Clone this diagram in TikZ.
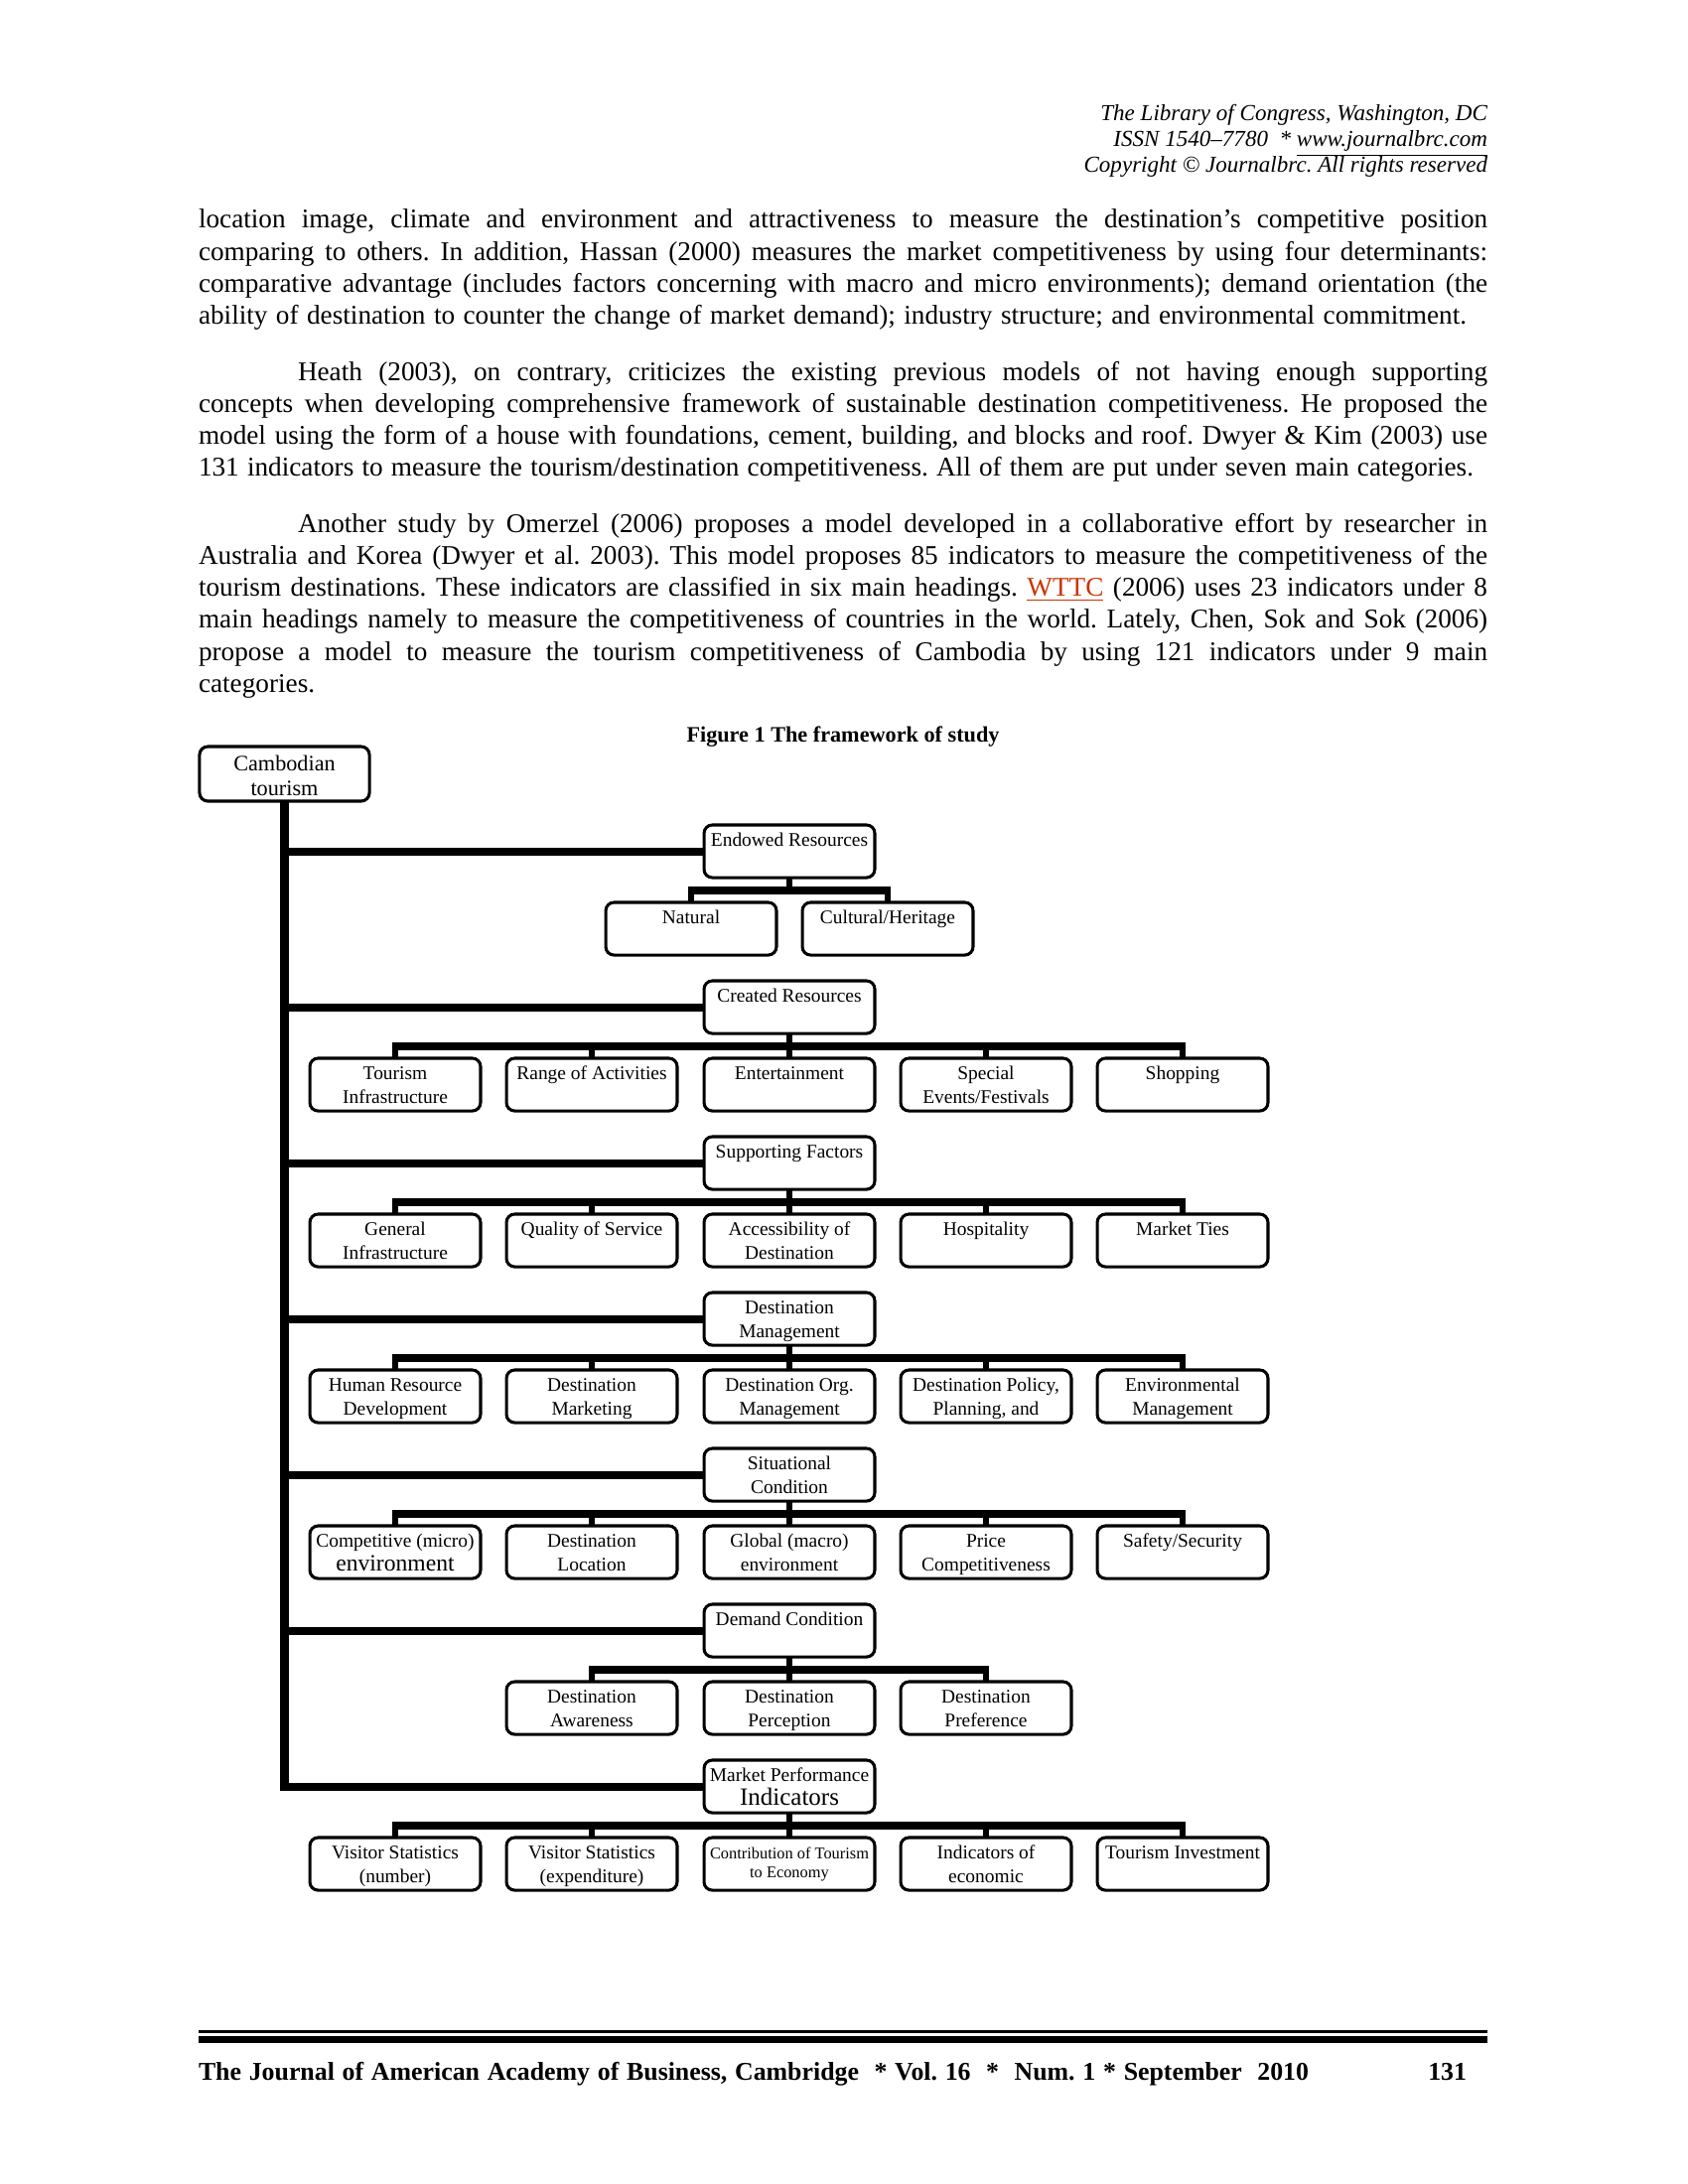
\documentclass[tikz,border=0pt]{standalone}
\usepackage{fontspec}
\setmainfont{Liberation Serif}
\usetikzlibrary{calc,backgrounds}
\definecolor{linkred}{RGB}{204,51,0}
\newcommand\bxt[1]{\parbox[c][17pt][t]{61pt}{\centering\fontsize{7}{8.5}\selectfont\rule{0pt}{6.75pt}#1\par}}
\newcommand\fitline[2]{\makebox[#1][s]{#2}}
\frenchspacing
\begin{document}
\begin{tikzpicture}[x=0.36pt,y=-0.36pt,
  every node/.style={inner sep=0pt, outer sep=0pt},
  box/.style={draw, line width=1.1pt, rounded corners=3pt, fill=white,
    minimum width=61.9pt, minimum height=19.1pt, anchor=north},
  trunkline/.style={line width=2.9pt, line cap=rect},
  busline/.style={line width=2.8pt, shorten <=-1pt, shorten >=-1pt},
  dropline/.style={line width=2pt},
  bodyline/.style={anchor=base west, font=\fontsize{9.8}{11.6}\selectfont},
  headline/.style={anchor=base east, font=\itshape\fontsize{8.3}{9}\selectfont},
]
\useasboundingbox (0,0) rectangle (1700,2200);

% header
\node[headline] (hd1) at (1498,122) {The Library of Congress, Washington, DC};
\node[headline] (hd2) at (1498,148) {ISSN 1540–7780 \ * \underline{www.journalbrc.com}};
\node[headline] (hd3) at (1498,174) {Copyright © Journalbrc. All rights reserved};

% body text
\node[bodyline] (p1a) at (200,230.0) {\fitline{467.3pt}{location image, climate and environment and attractiveness to measure the destination’s competitive position}};
\node[bodyline] (p1b) at (200,262.3) {\fitline{467.3pt}{comparing to others. In addition, Hassan (2000) measures the market competitiveness by using four determinants:}};
\node[bodyline] (p1c) at (200,294.6) {\fitline{467.3pt}{comparative advantage (includes factors concerning with macro and micro environments); demand orientation (the}};
\node[bodyline] (p1d) at (200,326.9) {\fitline{459.7pt}{ability of destination to counter the change of market demand); industry structure; and environmental commitment.}};

\node[bodyline] (p2a) at (300,383.0) {\fitline{431.3pt}{Heath (2003), on contrary, criticizes the existing previous models of not having enough supporting}};
\node[bodyline] (p2b) at (200,415.3) {\fitline{467.3pt}{concepts when developing comprehensive framework of sustainable destination competitiveness. He proposed the}};
\node[bodyline] (p2c) at (200,447.6) {\fitline{467.3pt}{model using the form of a house with foundations, cement, building, and blocks and roof. Dwyer \& Kim (2003) use}};
\node[bodyline] (p2d) at (200,479.9) {\fitline{462.2pt}{131 indicators to measure the tourism/destination competitiveness. All of them are put under seven main categories.}};

\node[bodyline] (p3a) at (300,536.0) {\fitline{431.3pt}{Another study by Omerzel (2006) proposes a model developed in a collaborative effort by researcher in}};
\node[bodyline] (p3b) at (200,568.3) {\fitline{467.3pt}{Australia and Korea (Dwyer et al. 2003). This model proposes 85 indicators to measure the competitiveness of the}};
\node[bodyline] (p3c) at (200,600.6) {\fitline{467.3pt}{tourism destinations. These indicators are classified in six main headings. \textcolor{linkred}{\underline{WTTC}} (2006) uses 23 indicators under 8}};
\node[bodyline] (p3d) at (200,632.9) {\fitline{467.3pt}{main headings namely to measure the competitiveness of countries in the world. Lately, Chen, Sok and Sok (2006)}};
\node[bodyline] (p3e) at (200,665.2) {\fitline{467.3pt}{propose a model to measure the tourism competitiveness of Cambodia by using 121 indicators under 9 main}};
\node[bodyline] (p3f) at (200,697.5) {categories.};

% caption
\node[anchor=base, font=\bfseries\fontsize{8}{9}\selectfont] (cap) at (849,747) {Figure 1 The framework of study};

% root
\node[box, minimum width=61.6pt, minimum height=19.8pt] (cam) at (286.5,752)
  {\parbox[c][18pt][t]{61pt}{\centering\fontsize{8}{9}\selectfont\rule{0pt}{8pt}Cambodian\\tourism\par}};

% headings
\node[box] (h0) at (795,831)  {\bxt{Endowed Resources}};
\node[box] (h1) at (795,988)  {\bxt{Created Resources}};
\node[box] (h2) at (795,1145) {\bxt{Supporting Factors}};
\node[box] (h3) at (795,1302) {\bxt{Destination\\Management}};
\node[box] (h4) at (795,1459) {\bxt{Situational\\Condition}};
\node[box] (h5) at (795,1616) {\bxt{Demand Condition}};
\node[box] (h6) at (795,1773) {\bxt{Market Performance\\{\fontsize{9}{8.5}\selectfont Indicators}}};

% row 0
\node[box] (c0a) at (696,909) {\bxt{Natural}};
\node[box] (c0b) at (894,909) {\bxt{Cultural/Heritage}};
% row 1
\node[box] (c1a) at (398,1066)  {\bxt{Tourism\\Infrastructure}};
\node[box] (c1b) at (596,1066)  {\bxt{Range of Activities}};
\node[box] (c1c) at (795,1066)  {\bxt{Entertainment}};
\node[box] (c1d) at (993,1066)  {\bxt{Special\\Events/Festivals}};
\node[box] (c1e) at (1191,1066) {\bxt{Shopping}};
% row 2
\node[box] (c2a) at (398,1223)  {\bxt{General\\Infrastructure}};
\node[box] (c2b) at (596,1223)  {\bxt{Quality of Service}};
\node[box] (c2c) at (795,1223)  {\bxt{Accessibility of\\Destination}};
\node[box] (c2d) at (993,1223)  {\bxt{Hospitality}};
\node[box] (c2e) at (1191,1223) {\bxt{Market Ties}};
% row 3
\node[box] (c3a) at (398,1380)  {\bxt{Human Resource\\Development}};
\node[box] (c3b) at (596,1380)  {\bxt{Destination\\Marketing}};
\node[box] (c3c) at (795,1380)  {\bxt{Destination Org.\\Management}};
\node[box] (c3d) at (993,1380)  {\bxt{Destination Policy,\\Planning, and}};
\node[box] (c3e) at (1191,1380) {\bxt{Environmental\\Management}};
% row 4
\node[box] (c4a) at (398,1537)  {\bxt{Competitive (micro)\\{\fontsize{8.5}{8.5}\selectfont environment}}};
\node[box] (c4b) at (596,1537)  {\bxt{Destination\\Location}};
\node[box] (c4c) at (795,1537)  {\bxt{Global (macro)\\environment}};
\node[box] (c4d) at (993,1537)  {\bxt{Price\\Competitiveness}};
\node[box] (c4e) at (1191,1537) {\bxt{Safety/Security}};
% row 5
\node[box] (c5b) at (596,1694)  {\bxt{Destination\\Awareness}};
\node[box] (c5c) at (795,1694)  {\bxt{Destination\\Perception}};
\node[box] (c5d) at (993,1694)  {\bxt{Destination\\Preference}};
% row 6
\node[box] (c6a) at (398,1851)  {\bxt{Visitor Statistics\\(number)}};
\node[box] (c6b) at (596,1851)  {\bxt{Visitor Statistics\\(expenditure)}};
\node[box] (c6c) at (795,1851)  {\parbox[c][17pt][t]{61.5pt}{\centering\fontsize{5.9}{6.8}\selectfont\rule{0pt}{6.6pt}Contribution of Tourism\\to Economy\par}};
\node[box] (c6d) at (993,1851)  {\bxt{Indicators of\\economic}};
\node[box] (c6e) at (1191,1851) {\bxt{Tourism Investment}};

% footer
\fill (200,2045) rectangle (1498,2048);
\fill (200,2051) rectangle (1498,2058);
\node[anchor=base west, font=\bfseries\fontsize{9.3}{10}\selectfont] (foot) at (200,2095)
  {\fitline{402.5pt}{The Journal of American Academy of Business, Cambridge \ * Vol. 16 \ * \ Num. 1 * September \ 2010}};
\node[anchor=base east, font=\bfseries\fontsize{9.3}{10}\selectfont] (pg) at (1477,2095) {131};

\begin{pgfonlayer}{background}
\fill[white] (0,0) rectangle (1700,2200);
% trunk
\draw[trunkline] (cam.south) -- (cam.south |- h6.west);
\foreach \h in {h0,h1,h2,h3,h4,h5,h6}{
  \draw[trunkline] (cam.south |- \h.west) -- (\h.west);
}
% bus coordinates
\foreach \k in {0,...,6}{
  \coordinate (b\k) at ($(h\k.south)+(0,13)$);
  \draw[dropline] (h\k.south) -- (b\k);
}
\draw[busline] (c0a.north |- b0) -- (c0b.north |- b0);
\foreach \c in {c0a,c0b}{\draw[dropline] (\c.north) -- (\c.north |- b0);}
\foreach \k in {1,2,3,4,6}{
  \draw[busline] (c\k a.north |- b\k) -- (c\k e.north |- b\k);
  \foreach \s in {a,b,c,d,e}{\draw[dropline] (c\k\s.north) -- (c\k\s.north |- b\k);}
}
\draw[busline] (c5b.north |- b5) -- (c5d.north |- b5);
\foreach \s in {b,c,d}{\draw[dropline] (c5\s.north) -- (c5\s.north |- b5);}
\end{pgfonlayer}
\end{tikzpicture}
\end{document}
